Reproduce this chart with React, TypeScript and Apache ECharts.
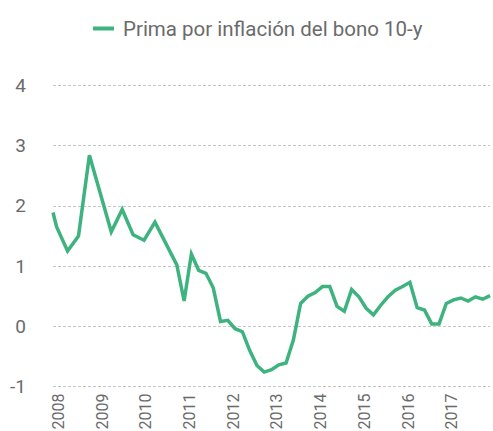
import React, { useEffect, useRef } from "react";
import * as echarts from "echarts";

const seriesName = "Prima por inflación del bono 10-y";

const dates: string[] = [
  "2007-11", "2007-12", "2008-03", "2008-06", "2008-09", "2009-03", "2009-06", "2009-09", "2009-12", "2010-03",
  "2010-09", "2010-11", "2011-01", "2011-03", "2011-05", "2011-07", "2011-09", "2011-11", "2012-01", "2012-03",
  "2012-05", "2012-07", "2012-09", "2012-11", "2013-01", "2013-03", "2013-05", "2013-07", "2013-09", "2013-11",
  "2014-01", "2014-03", "2014-05", "2014-07", "2014-09", "2014-11", "2015-01", "2015-03", "2015-05", "2015-07",
  "2015-09", "2015-11", "2016-01", "2016-03", "2016-05", "2016-07", "2016-09", "2016-11", "2017-01", "2017-03",
  "2017-05", "2017-07", "2017-09", "2017-11",
];

const values: number[] = [
  1.89, 1.65, 1.25, 1.5, 2.84, 1.57, 1.94, 1.52, 1.43, 1.73,
  1.02, 0.42, 1.2, 0.93, 0.88, 0.64, 0.08, 0.1, -0.04, -0.09,
  -0.4, -0.65, -0.76, -0.72, -0.64, -0.61, -0.23, 0.38, 0.5, 0.56,
  0.66, 0.66, 0.33, 0.25, 0.61, 0.49, 0.3, 0.19, 0.35, 0.49,
  0.6, 0.66, 0.73, 0.31, 0.27, 0.04, 0.04, 0.38, 0.44, 0.47,
  0.42, 0.49, 0.45, 0.51,
];

const yearLabels: number[] = [2008, 2009, 2010, 2011, 2012, 2013, 2014, 2015, 2016, 2017];

const toYear = (d: string) => {
  const [y, m] = d.split("-").map(Number);
  return y + (m - 0.5) / 12;
};

export default function App() {
  const ref = useRef<HTMLDivElement>(null);
  useEffect(() => {
    if (!ref.current) return;
    const chart = echarts.init(ref.current, undefined, { renderer: "svg" });
    const font = "Roboto, 'Noto Sans', sans-serif";
    chart.setOption({
      animation: false,
      textStyle: { fontFamily: font },
      legend: {
        left: 88,
        top: 13,
        icon: "rect",
        itemWidth: 21,
        itemHeight: 4,
        itemGap: 10,
        textStyle: { fontSize: 20.5, color: "#6b6b6b", fontFamily: font, padding: [0, 0, 0, 4] },
        data: [seriesName],
      },
      grid: {
        left: 53,
        right: 3,
        top: 85.5,
        bottom: 44.5,
        containLabel: false,
        outerBoundsMode: "none",
      },
      xAxis: {
        type: "value",
        min: toYear(dates[0]),
        max: toYear(dates[dates.length - 1]),
        axisLine: { show: false },
        axisTick: { show: false },
        splitLine: { show: false },
        axisLabel: {
          customValues: yearLabels,
          rotate: 90,
          margin: 7,
          fontSize: 16,
          color: "#6b6b6b",
          fontFamily: font,
          formatter: (v: number) => String(Math.round(v)),
        },
      },
      yAxis: {
        type: "value",
        min: -1,
        max: 4,
        interval: 1,
        axisLine: { show: false },
        axisTick: { show: false },
        axisLabel: { margin: 27, fontSize: 19, color: "#6b6b6b", fontFamily: font },
        splitLine: { lineStyle: { color: "#c6c6c6", width: 1, type: [3, 2] } },
      },
      series: [
        {
          name: seriesName,
          type: "line",
          data: dates.map((d, i) => [toYear(d), values[i]]),
          showSymbol: false,
          symbol: "none",
          lineStyle: { color: "#3fb37f", width: 3.5, join: "miter" },
          itemStyle: { color: "#3fb37f" },
        },
      ],
    });
    return () => chart.dispose();
  }, []);
  return <div ref={ref} style={{ width: 493, height: 431, position: "absolute", left: 0, top: 0 }} />;
}
